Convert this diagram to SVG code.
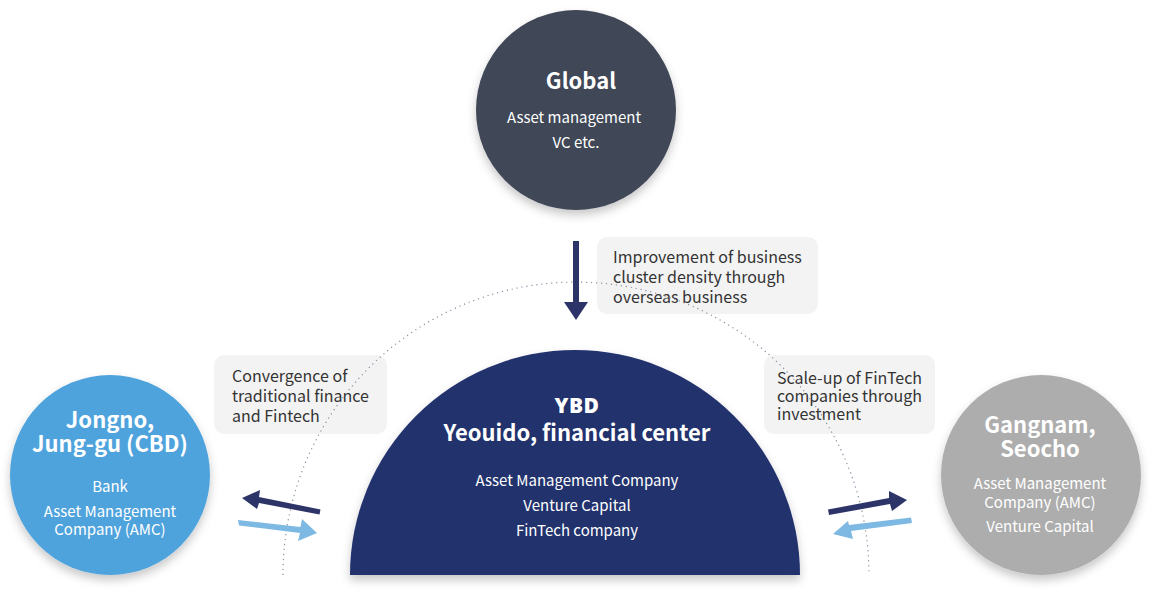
<svg xmlns="http://www.w3.org/2000/svg" width="1160" height="594" viewBox="0 0 1160 594">
<style>
text{font-family:"Noto Sans CJK KR","Noto Sans",sans-serif;}
.t{fill:#ffffff;text-anchor:middle;}
.h{font-size:22px;font-weight:700;}
.s{font-size:15px;}
.lbl{font-size:16px;fill:#333333;}
.box{fill:#f3f3f3;}
.navy{fill:#2d3568;}
.light{fill:#7db9e2;}
</style>
<defs>
<filter id="sh" x="-20%" y="-20%" width="140%" height="150%">
<feDropShadow dx="0" dy="5" stdDeviation="5" flood-color="#000" flood-opacity="0.22"/>
</filter>
</defs>
<rect width="1160" height="594" fill="#ffffff"/>

<g id="label-top"><rect class="box" x="597" y="237" width="221" height="77" rx="10"/>
<text class="lbl" x="613" y="263">Improvement of business</text>
<text class="lbl" x="613" y="283">cluster density through</text>
<text class="lbl" x="613" y="303">overseas business</text></g>
<g id="label-left"><rect class="box" x="214" y="355" width="173" height="79" rx="10"/>
<text class="lbl" x="232" y="382">Convergence of</text>
<text class="lbl" x="232" y="402">traditional finance</text>
<text class="lbl" x="232" y="422">and Fintech</text></g>
<g id="label-right"><rect class="box" x="764" y="355" width="171" height="79" rx="10"/>
<text class="lbl" x="777" y="384">Scale-up of FinTech</text>
<text class="lbl" x="777" y="402">companies through</text>
<text class="lbl" x="777" y="420">investment</text></g>

<path d="M283,575 A293,293 0 0 1 869,575" fill="none" stroke="#8a8fa3" stroke-width="1.2" stroke-dasharray="1.2 3.8"/>

<g id="connectors">
<path class="navy" d="M573,241 H579 V302 H588 L576,320 L564,302 H573 Z"/>
<path class="navy" d="M320.5,509.5 L319.5,514.5 L259,503 L257,509 L242,498 L260,490 L259,497 Z"/>
<path class="light" d="M238,520 L239,525.5 L300,533 L298,541 L317,533 L302,519 L300.5,527 Z"/>
<path class="navy" d="M828,509.5 L829,515 L890,504 L892,511 L907,500 L889,491 L889,498 Z"/>
<path class="light" d="M911,517.5 L912,523 L851,531 L853,539 L833,534 L848,521 L849,525 Z"/>
</g>

<g id="global"><circle cx="576" cy="110" r="100" fill="#414656" filter="url(#sh)"/>
<text class="t h" x="581" y="89">Global</text>
<text class="t s" x="574" y="123">Asset management</text>
<text class="t s" x="576" y="148">VC etc.</text></g>

<g id="ybd"><path d="M350,575 A225,225 0 0 1 800,575 Z" fill="#22306d" filter="url(#sh)"/>
<text class="t" x="577" y="413" style="font-family:'Open Sans','Noto Sans',sans-serif;font-size:21px;font-weight:800;letter-spacing:0.5px;">YBD</text>
<text class="t h" x="577" y="441">Yeouido, financial center</text>
<text class="t s" x="577" y="486">Asset Management Company</text>
<text class="t s" x="577" y="511">Venture Capital</text>
<text class="t s" x="577" y="536">FinTech company</text></g>

<g id="cbd"><circle cx="110" cy="475" r="100" fill="#4fa3dc" filter="url(#sh)"/>
<text class="t h" x="110" y="428">Jongno,</text>
<text class="t h" x="110" y="452">Jung-gu (CBD)</text>
<text class="t s" x="110" y="492">Bank</text>
<text class="t s" x="110" y="517">Asset Management</text>
<text class="t s" x="110" y="535">Company (AMC)</text></g>

<g id="gangnam"><circle cx="1041" cy="475" r="100" fill="#adadad" filter="url(#sh)"/>
<text class="t h" x="1040" y="433">Gangnam,</text>
<text class="t h" x="1040" y="457">Seocho</text>
<text class="t s" x="1040" y="489">Asset Management</text>
<text class="t s" x="1040" y="508">Company (AMC)</text>
<text class="t s" x="1040" y="532">Venture Capital</text></g>
</svg>
